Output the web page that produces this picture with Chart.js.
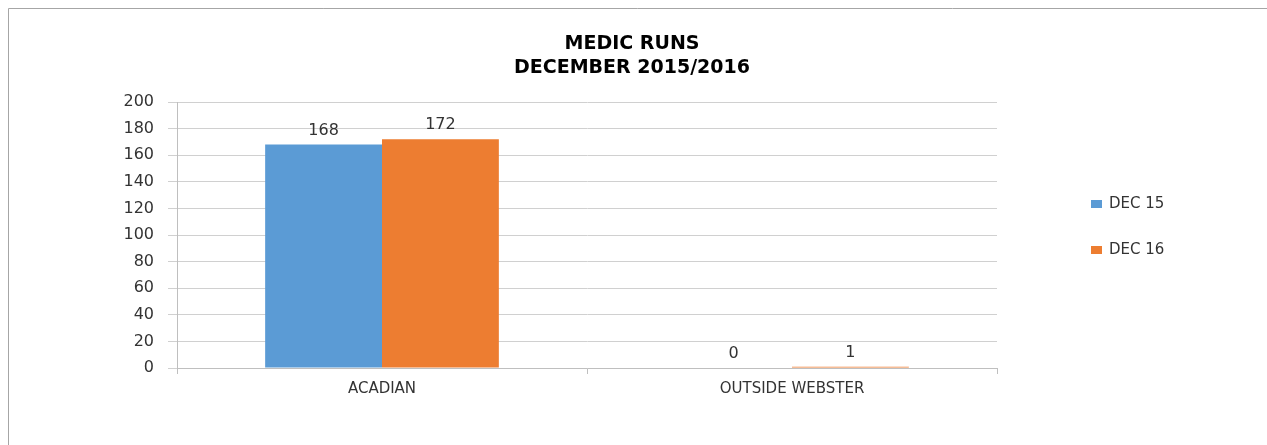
<!DOCTYPE html>
<html>
<head>
<meta charset="utf-8">
<title>Medic Runs</title>
<script src="https://cdn.jsdelivr.net/npm/chart.js@4.4.1/dist/chart.umd.min.js"></script>
<style>
    html, body { margin: 0; padding: 0; background: #fff; overflow: hidden; }
    #wrap { width: 1267px; height: 445px; }
</style>
</head>
<body>
<div id="wrap">
    <canvas id="medicChart" width="1267" height="445"></canvas>
</div>
<script>
const TITLE_LINES = ["MEDIC RUNS", "DECEMBER 2015/2016"];
const CATEGORIES = ["ACADIAN", "OUTSIDE WEBSTER"];
const SERIES_NAMES = ["DEC 15", "DEC 16"];
const DEC15 = [168, 0];
const DEC16 = [172, 1];
const Y_MIN = 0;
const Y_MAX = 200;
const Y_STEP = 20;

const COLORS = ['#5b9bd5', '#ed7d31'];
const FONT = "'DejaVu Sans', sans-serif";

// chart frame: only the left and top edges show in the original
const frame = {
    id: 'frame',
    beforeDraw(chart) {
        const ctx = chart.ctx;
        ctx.save();
        ctx.strokeStyle = '#a6a6a6';
        ctx.lineWidth = 1;
        ctx.beginPath();
        ctx.moveTo(8.5, chart.height);
        ctx.lineTo(8.5, 8.5);
        ctx.lineTo(chart.width, 8.5);
        ctx.stroke();
        ctx.restore();
    }
};

// title centred over the whole chart, not just the plot
const wideTitle = {
    id: 'wideTitle',
    afterDraw(chart) {
        const ctx = chart.ctx;
        ctx.save();
        ctx.font = "bold 19px " + FONT;
        ctx.fillStyle = '#000';
        ctx.textAlign = 'center';
        ctx.textBaseline = 'middle';
        TITLE_LINES.forEach((line, i) => {
            ctx.fillText(line, 632, 44 + i * 24);
        });
        ctx.restore();
    }
};

// value labels above each bar
const barLabels = {
    id: 'barLabels',
    afterDatasetsDraw(chart) {
        const ctx = chart.ctx;
        ctx.save();
        ctx.font = "16px " + FONT;
        ctx.fillStyle = '#333';
        ctx.textAlign = 'center';
        ctx.textBaseline = 'bottom';
        chart.data.datasets.forEach((ds, i) => {
            chart.getDatasetMeta(i).data.forEach((bar, j) => {
                ctx.fillText(String(ds.data[j]), bar.x, bar.y - 6);
            });
        });
        ctx.restore();
    }
};

// legend on the right, rows spaced like the original
const sideLegend = {
    id: 'sideLegend',
    afterDraw(chart) {
        const ctx = chart.ctx;
        ctx.save();
        ctx.font = "15px " + FONT;
        ctx.textBaseline = 'middle';
        ctx.textAlign = 'left';
        chart.data.datasets.forEach((ds, i) => {
            const y = 204 + i * 46;
            ctx.fillStyle = ds.backgroundColor;
            ctx.fillRect(1091, y - 4, 11, 8);
            ctx.fillStyle = '#333';
            ctx.fillText(ds.label, 1109, y);
        });
        ctx.restore();
    }
};

const ctx = document.getElementById('medicChart').getContext('2d');
const chart = new Chart(ctx, {
    type: 'bar',
    data: {
        labels: CATEGORIES,
        datasets: [
            { label: SERIES_NAMES[0], data: DEC15, backgroundColor: COLORS[0] },
            { label: SERIES_NAMES[1], data: DEC16, backgroundColor: COLORS[1] }
        ]
    },
    options: {
        responsive: false,
        animation: false,
        devicePixelRatio: 1,
        categoryPercentage: 0.57,
        barPercentage: 1.0,
        layout: { padding: { left: 0, right: 270, top: 102, bottom: 0 } },
        plugins: {
            legend: { display: false },
            tooltip: { enabled: false },
            title: { display: false }
        },
        scales: {
            x: {
                grid: { display: true, drawOnChartArea: false, drawTicks: true, tickLength: 6, color: '#bfbfbf' },
                border: { display: true, color: '#bfbfbf' },
                ticks: { color: '#333', font: { family: FONT, size: 15 }, padding: 6 },
                afterFit(scale) { scale.height = 77; }
            },
            y: {
                min: Y_MIN,
                max: Y_MAX,
                ticks: { stepSize: Y_STEP, color: '#333', font: { family: FONT, size: 16 }, padding: 14 },
                grid: { color: '#d0d0d0', tickLength: 9 },
                border: { display: true, color: '#bfbfbf' },
                afterFit(scale) { scale.width = 177; }
            }
        }
    },
    plugins: [frame, wideTitle, barLabels, sideLegend]
});
</script>
</body>
</html>
